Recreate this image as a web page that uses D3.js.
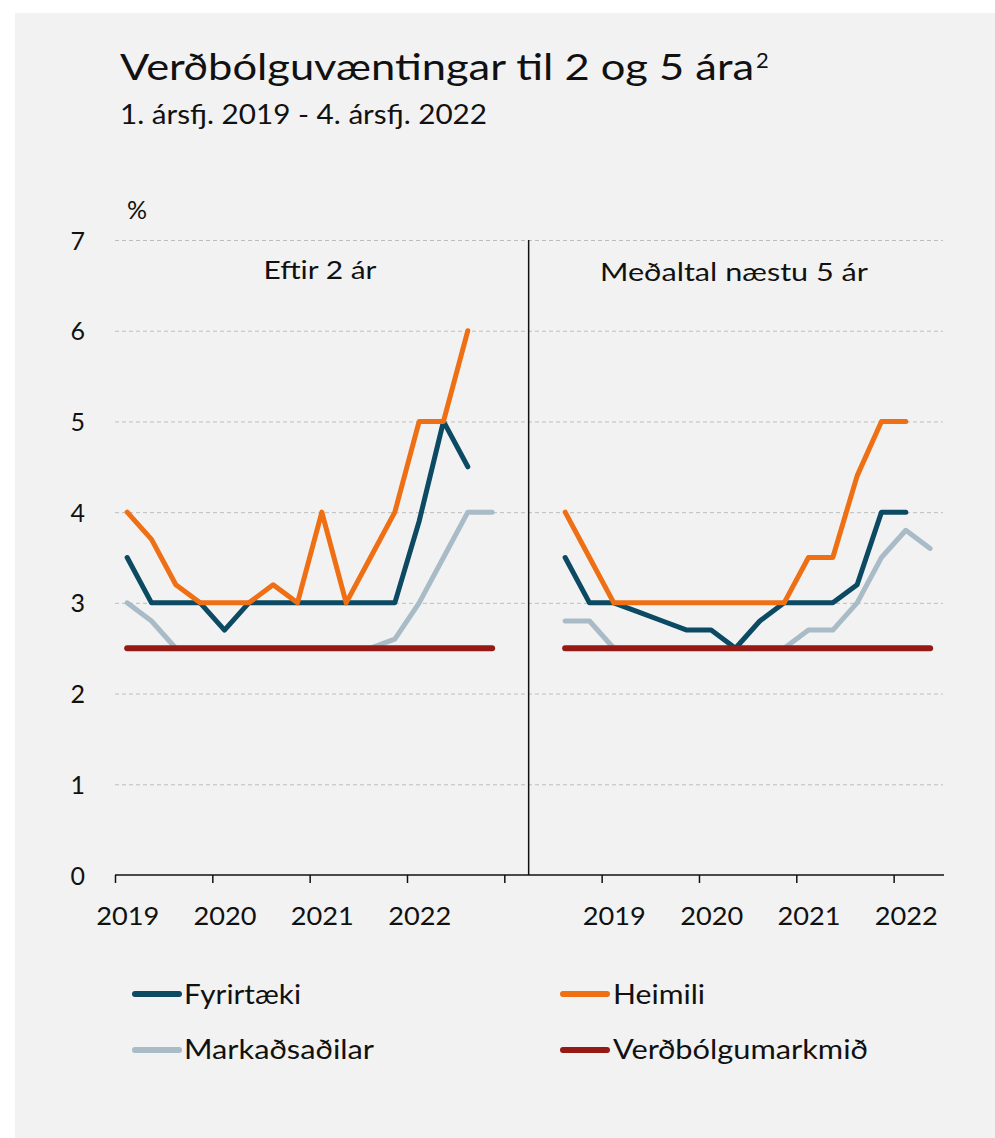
<!DOCTYPE html>
<html>
<head>
<meta charset="utf-8">
<script src="https://cdn.jsdelivr.net/npm/d3@7"></script>
<style>
  html, body { margin: 0; padding: 0; background: #ffffff; }
  svg text { font-family: Lato, "Open Sans", sans-serif; fill: #111; }
</style>
</head>
<body>
<svg id="chart" width="995" height="1138"></svg>
<script>
// ---------- data ----------
const yTicks = [0, 1, 2, 3, 4, 5, 6, 7];
const xTickLabels = ["2019", "2020", "2021", "2022", "2019", "2020", "2021", "2022"];
const xLabelSlots = [0, 4, 8, 12, 20, 24, 28, 32];      // category slot of each year label
const xTickSlots = [0, 4, 8, 12, 16, 20, 24, 28, 32];   // category boundaries with tick marks
const panelNames = ["Eftir 2 ár", "Meðaltal næstu 5 ár"];
const panelStart = [0, 18];                            // first category slot of each panel
const seriesNames = ["Fyrirtæki", "Heimili", "Markaðsaðilar", "Verðbólgumarkmið"];

// Eftir 2 ár (quarterly)
const fyrirtaeki2 = [3.5, 3.0, 3.0, 3.0, 2.7, 3.0, 3.0, 3.0, 3.0, 3.0, 3.0, 3.0, 3.9, 5.0, 4.5, null];
const heimili2    = [4.0, 3.7, 3.2, 3.0, 3.0, 3.0, 3.2, 3.0, 4.0, 3.0, 3.5, 4.0, 5.0, 5.0, 6.0, null];
const markads2    = [3.0, 2.8, 2.5, 2.5, 2.5, 2.5, 2.5, 2.5, 2.5, 2.5, 2.5, 2.6, 3.0, 3.5, 4.0, 4.0];
const markmid2    = [2.5, 2.5, 2.5, 2.5, 2.5, 2.5, 2.5, 2.5, 2.5, 2.5, 2.5, 2.5, 2.5, 2.5, 2.5, 2.5];

// Meðaltal næstu 5 ár (quarterly)
const fyrirtaeki5 = [3.5, 3.0, 3.0, 2.9, 2.8, 2.7, 2.7, 2.5, 2.8, 3.0, 3.0, 3.0, 3.2, 4.0, 4.0, null];
const heimili5    = [4.0, 3.5, 3.0, 3.0, 3.0, 3.0, 3.0, 3.0, 3.0, 3.0, 3.5, 3.5, 4.4, 5.0, 5.0, null];
const markads5    = [2.8, 2.8, 2.5, 2.5, 2.5, 2.5, 2.5, 2.5, 2.5, 2.5, 2.7, 2.7, 3.0, 3.5, 3.8, 3.6];
const markmid5    = [2.5, 2.5, 2.5, 2.5, 2.5, 2.5, 2.5, 2.5, 2.5, 2.5, 2.5, 2.5, 2.5, 2.5, 2.5, 2.5];

// ---------- styling ----------
const colors = {
  "Fyrirtæki": "#0b4a62",
  "Heimili": "#ee6f14",
  "Markaðsaðilar": "#a8bbc7",
  "Verðbólgumarkmið": "#951a16"
};
const widths = { "Fyrirtæki": 5, "Heimili": 5, "Markaðsaðilar": 5, "Verðbólgumarkmið": 6 };

const svg = d3.select("#chart");
svg.append("rect").attr("x", 15).attr("y", 13).attr("width", 980).attr("height", 1125).attr("fill", "#f2f2f2");

function fitText(sel, target) {
  sel.each(function () {
    const w = this.getComputedTextLength();
    if (w > 0) d3.select(this).attr("textLength", target).attr("lengthAdjust", "spacingAndGlyphs");
  });
  return sel;
}

// Title
fitText(svg.append("text").attr("x", 120).attr("y", 80).style("font-size", "37px")
  .text("Verðbólguvæntingar til 2 og 5 ára"), 634);
svg.append("text").attr("x", 756).attr("y", 68).style("font-size", "22px").text("2");
fitText(svg.append("text").attr("x", 120).attr("y", 124).style("font-size", "26px")
  .text("1. ársfj. 2019 - 4. ársfj. 2022"), 367);

// Scales
const y = d3.scaleLinear().domain([0, 7]).range([875, 240]);
const x = d3.scaleLinear().domain([0, 34]).range([115, 942.3]);

// Gridlines
svg.append("g").attr("transform", "translate(115,0)")
  .call(d3.axisLeft(y).tickValues(yTicks.filter(v => v > 0)).tickSize(-828).tickFormat(""))
  .call(g => g.select(".domain").remove())
  .call(g => g.selectAll("line").attr("stroke", "#bdbdbd").attr("stroke-width", 1).attr("stroke-dasharray", "4,3"));

// Y labels
svg.append("g").attr("transform", "translate(115,0)")
  .call(d3.axisLeft(y).tickValues(yTicks).tickSize(0).tickPadding(30).tickFormat(d3.format("d")))
  .call(g => g.select(".domain").remove())
  .call(g => g.selectAll("text").style("font-size", "25px").attr("fill", "#111").attr("dy", "0.36em"));

svg.append("text").attr("x", 127).attr("y", 219).style("font-size", "25px").text("%");

// Panel separator
svg.append("line").attr("x1", x(17)).attr("x2", x(17)).attr("y1", y(7)).attr("y2", y(0))
  .attr("stroke", "#111").attr("stroke-width", 1.5);

// X axis
svg.append("g").attr("transform", "translate(0,875)")
  .call(d3.axisBottom(x).tickValues(xTickSlots).tickSize(8).tickSizeOuter(0).tickFormat(""))
  .call(g => g.select(".domain").attr("stroke", "#111").attr("stroke-width", 1.5).attr("d", `M${x(0)},0H944`))
  .call(g => g.selectAll(".tick line").attr("stroke", "#111").attr("stroke-width", 1.5));

svg.append("g").attr("transform", "translate(0,875)")
  .call(d3.axisBottom(x).tickValues(xLabelSlots.map(s => s + 0.5)).tickSize(0)
    .tickFormat((d, i) => xTickLabels[i]))
  .call(g => g.select(".domain").remove())
  .call(g => g.selectAll("text").attr("y", 50).attr("dy", 0).style("font-size", "25px").attr("fill", "#111")
    .each(function () { fitText(d3.select(this), 63); }));

// Panel titles
svg.append("text").attr("x", 320).attr("y", 279).attr("text-anchor", "middle").style("font-size", "25px")
  .text(panelNames[0]).call(s => fitText(s, 113));
svg.append("text").attr("x", 734).attr("y", 281).attr("text-anchor", "middle").style("font-size", "25px")
  .text(panelNames[1]).call(s => fitText(s, 268));

// Series
const panels = [
  { start: panelStart[0], data: { "Fyrirtæki": fyrirtaeki2, "Heimili": heimili2, "Markaðsaðilar": markads2, "Verðbólgumarkmið": markmid2 } },
  { start: panelStart[1], data: { "Fyrirtæki": fyrirtaeki5, "Heimili": heimili5, "Markaðsaðilar": markads5, "Verðbólgumarkmið": markmid5 } }
];
const drawOrder = ["Markaðsaðilar", "Fyrirtæki", "Heimili", "Verðbólgumarkmið"];
const line = d3.line()
  .defined(d => d.v != null)
  .x(d => x(d.i + 0.5))
  .y(d => y(d.v));

drawOrder.forEach(name => {
  panels.forEach(p => {
    const pts = p.data[name].map((v, k) => ({ i: p.start + k, v }));
    svg.append("path").datum(pts).attr("d", line)
      .attr("fill", "none").attr("stroke", colors[name]).attr("stroke-width", widths[name])
      .attr("stroke-linejoin", "round").attr("stroke-linecap", "round");
  });
});

// Legend
const legendPos = [
  { x: 132, y: 994, tx: 184, ty: 1004, w: 117 },
  { x: 560, y: 994, tx: 613, ty: 1004, w: 92 },
  { x: 132, y: 1050, tx: 184, ty: 1059, w: 190 },
  { x: 560, y: 1050, tx: 613, ty: 1059, w: 255 }
];
seriesNames.forEach((name, k) => {
  const p = legendPos[k];
  svg.append("line").attr("x1", p.x + 3).attr("x2", p.x + 47).attr("y1", p.y).attr("y2", p.y)
    .attr("stroke", colors[name]).attr("stroke-width", 6).attr("stroke-linecap", "round");
  svg.append("text").attr("x", p.tx).attr("y", p.ty).style("font-size", "27px").text(name)
    .call(s => fitText(s, p.w));
});
</script>
</body>
</html>
